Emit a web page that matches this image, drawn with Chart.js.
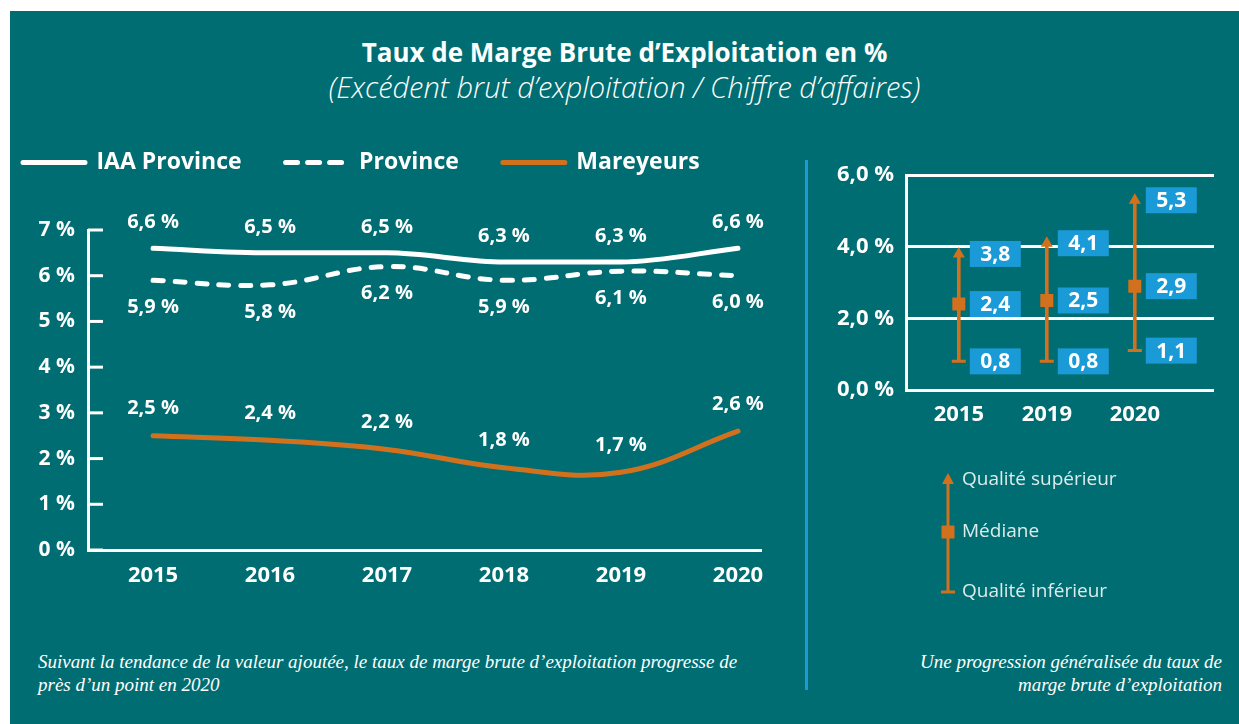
<!DOCTYPE html>
<html lang="fr">
<head>
<meta charset="utf-8">
<title>Taux de Marge Brute d'Exploitation</title>
<script src="https://cdn.jsdelivr.net/npm/chart.js@4.4.1/dist/chart.umd.min.js"></script>
<style>
  html, body { margin: 0; padding: 0; background: #fff; }
  body { width: 1239px; height: 724px; position: relative; overflow: hidden; font-family: "Open Sans", Lato, sans-serif; }
  #panel { position: absolute; left: 10px; top: 11px; right: 0; bottom: 0; background: #006d72; }
  .abs { position: absolute; }
  #title { left: 10px; width: 1229px; top: 35px; line-height: 34px; text-align: center; color: #fff; font-weight: 700; font-size: 26px; }
  #subtitle { left: 10px; width: 1229px; top: 67px; line-height: 39px; text-align: center; color: #fff; font-weight: 300; font-style: italic; font-size: 29px; }
  #sep { left: 805px; top: 160px; width: 3px; height: 530px; background: #1d9ad6; }
  #leftChart { left: -21px; top: 107px; }
  #rightChart { left: 820px; top: 150px; }
  .note { color: #fff; font-family: "Liberation Serif", serif; font-style: italic; font-size: 19px; line-height: 23px; white-space: nowrap; }
  #noteLeft { left: 38px; top: 650px; }
  #noteRight { right: 17px; top: 650px; text-align: right; }
</style>
</head>
<body>
<div id="panel"></div>
<div id="title" class="abs">Taux de Marge Brute d’Exploitation en %</div>
<div id="subtitle" class="abs">(Excédent brut d’exploitation / Chiffre d’affaires)</div>
<div id="sep" class="abs"></div>
<canvas id="leftChart" class="abs" width="809" height="493"></canvas>
<canvas id="rightChart" class="abs" width="410" height="465"></canvas>
<div id="noteLeft" class="abs note">Suivant la tendance de la valeur ajoutée, le taux de marge brute d’exploitation progresse de<br>près d’un point en 2020</div>
<div id="noteRight" class="abs note">Une progression généralisée du taux de<br>marge brute d’exploitation</div>

<script>
// left chart data
var years = [2015, 2016, 2017, 2018, 2019, 2020];
var iaaProvince = [6.6, 6.5, 6.5, 6.3, 6.3, 6.6];
var province = [5.9, 5.8, 6.2, 5.9, 6.1, 6.0];
var mareyeurs = [2.5, 2.4, 2.2, 1.8, 1.7, 2.6];

// right chart data
var boxYears = ['2015', '2019', '2020'];
var boxPos = [0.6, 1.6, 2.6];
var qualSup = [3.8, 4.1, 5.3];
var mediane = [2.4, 2.5, 2.9];
var qualInf = [0.8, 0.8, 1.1];

var WHITE = '#ffffff';
var ORANGE = '#d2711d';
var BLUE = '#1a9ad6';
var FONT = '"Open Sans", Lato, sans-serif';

Chart.defaults.font.family = FONT;
Chart.defaults.color = WHITE;

function fr(v) { return v.toFixed(1).replace('.', ','); }
function pts(xs, ys) { return xs.map(function (x, i) { return {x: x, y: ys[i]}; }); }

// push the plot area down below the legend
var legendGap = {
  id: 'legendGap',
  beforeInit: function (chart) {
    var fit = chart.legend.fit;
    chart.legend.fit = function () {
      fit.bind(chart.legend)();
      this.height += 46;
    };
  }
};

var valueLabels = {
  id: 'valueLabels',
  afterDatasetsDraw: function (chart) {
    var ctx = chart.ctx;
    ctx.save();
    ctx.font = 'bold 20px ' + FONT;
    ctx.fillStyle = WHITE;
    ctx.textAlign = 'center';
    ctx.textBaseline = 'middle';
    chart.data.datasets.forEach(function (ds, i) {
      chart.getDatasetMeta(i).data.forEach(function (pt, j) {
        ctx.fillText(fr(ds.data[j].y) + ' %', pt.x, pt.y + ds.labelShift);
      });
    });
    ctx.restore();
  }
};

// tick marks pointing into the plot
var innerTicks = {
  id: 'innerTicks',
  afterDraw: function (chart) {
    var s = chart.scales.y, ctx = chart.ctx;
    ctx.save();
    ctx.strokeStyle = WHITE;
    ctx.lineWidth = 3;
    s.ticks.forEach(function (t, i) {
      var y = s.getPixelForTick(i);
      ctx.beginPath();
      ctx.moveTo(s.right, y);
      ctx.lineTo(s.right + 15, y);
      ctx.stroke();
    });
    ctx.restore();
  }
};

new Chart(document.getElementById('leftChart'), {
  type: 'line',
  data: {
    datasets: [{
      label: 'IAA Province',
      data: pts(years, iaaProvince),
      borderColor: WHITE,
      backgroundColor: WHITE,
      borderWidth: 5,
      borderCapStyle: 'round',
      cubicInterpolationMode: 'monotone',
      labelShift: -26
    }, {
      label: 'Province',
      data: pts(years, province),
      borderColor: WHITE,
      backgroundColor: WHITE,
      borderWidth: 5,
      borderDash: [10, 12],
      borderCapStyle: 'round',
      labelShift: 27
    }, {
      label: 'Mareyeurs',
      data: pts(years, mareyeurs),
      borderColor: ORANGE,
      backgroundColor: ORANGE,
      borderWidth: 5,
      borderCapStyle: 'round',
      labelShift: -27
    }]
  },
  options: {
    responsive: false,
    animation: false,
    tension: 0.4,
    pointRadius: 0,
    layout: { padding: { left: 0, right: 27, top: 0, bottom: 0 } },
    scales: {
      x: {
        type: 'linear',
        min: 2014.444,
        max: 2020.197,
        afterBuildTicks: function (s) { s.ticks = years.map(function (y) { return {value: y}; }); },
        afterFit: function (s) { s.height = 50; },
        ticks: { callback: function (v) { return String(v); }, font: { size: 22, weight: 'bold' }, padding: 5 },
        grid: { display: false },
        border: { color: WHITE, width: 3 }
      },
      y: {
        min: 0,
        max: 7,
        afterFit: function (s) { s.width = 109; },
        ticks: { stepSize: 1, callback: function (v) { return v + ' %'; }, font: { size: 21, weight: 'bold' }, padding: 13 },
        grid: { display: false, drawTicks: false },
        border: { color: WHITE, width: 3 }
      }
    },
    plugins: {
      legend: {
        align: 'start',
        labels: {
          usePointStyle: true,
          pointStyleWidth: 62,
          padding: 44,
          color: WHITE,
          font: { size: 23, weight: 'bold' },
          generateLabels: function (chart) {
            return chart.data.datasets.map(function (ds, i) {
              return {
                text: ds.label,
                datasetIndex: i,
                fillStyle: ds.borderColor,
                strokeStyle: ds.borderColor,
                lineWidth: ds.borderWidth,
                lineDash: ds.borderDash ? [12, 10] : [],
                lineCap: 'round',
                pointStyle: 'line',
                fontColor: WHITE
              };
            });
          }
        }
      },
      tooltip: { enabled: false }
    }
  },
  plugins: [legendGap, valueLabels, innerTicks]
});

// blue value boxes next to each mark
var boxLabels = {
  id: 'boxLabels',
  afterDatasetsDraw: function (chart) {
    var ctx = chart.ctx;
    ctx.save();
    ctx.font = 'bold 21px ' + FONT;
    ctx.textAlign = 'center';
    ctx.textBaseline = 'middle';
    chart.data.datasets.forEach(function (ds, i) {
      if (!ds.boxed) return;
      chart.getDatasetMeta(i).data.forEach(function (pt, j) {
        var v = ds.data[j].y;
        var y = chart.scales.y.getPixelForValue(v);
        ctx.fillStyle = BLUE;
        ctx.fillRect(pt.x + 11, y - 13, 51, 26);
        ctx.fillStyle = WHITE;
        ctx.fillText(fr(v), pt.x + 36.5, y + 1);
      });
    });
    ctx.restore();
  }
};

// key under the plot
var rangeKey = {
  id: 'rangeKey',
  afterDraw: function (chart) {
    var ctx = chart.ctx, a = chart.chartArea;
    var x = a.left + 42, yTop = a.bottom + 83, yMid = a.bottom + 142, yLow = a.bottom + 202;
    ctx.save();
    ctx.strokeStyle = ORANGE;
    ctx.fillStyle = ORANGE;
    ctx.lineWidth = 3;
    ctx.beginPath();
    ctx.moveTo(x, yTop + 6);
    ctx.lineTo(x, yLow);
    ctx.stroke();
    ctx.beginPath();
    ctx.moveTo(x, yTop);
    ctx.lineTo(x + 6, yTop + 11);
    ctx.lineTo(x - 6, yTop + 11);
    ctx.closePath();
    ctx.fill();
    ctx.fillRect(x - 6.5, yMid - 6.5, 13, 13);
    ctx.beginPath();
    ctx.moveTo(x - 7, yLow);
    ctx.lineTo(x + 7, yLow);
    ctx.stroke();
    ctx.fillStyle = '#dcecea';
    ctx.font = '19px ' + FONT;
    ctx.textBaseline = 'middle';
    ctx.fillText('Qualité supérieur', x + 14, yTop + 7);
    ctx.fillText('Médiane', x + 14, yMid);
    ctx.fillText('Qualité inférieur', x + 14, yLow);
    ctx.restore();
  }
};

new Chart(document.getElementById('rightChart'), {
  type: 'scatter',
  data: {
    datasets: [{
      type: 'bar',
      data: boxPos.map(function (x, i) { return {x: x, y: [qualInf[i], qualSup[i]]}; }),
      backgroundColor: ORANGE,
      barThickness: 3,
      order: 3
    }, {
      data: pts(boxPos, qualSup),
      pointStyle: 'triangle',
      pointRadius: 7,
      backgroundColor: ORANGE,
      borderColor: ORANGE,
      borderWidth: 0,
      boxed: true,
      order: 1
    }, {
      data: pts(boxPos, mediane),
      pointStyle: 'rect',
      pointRadius: 9.2,
      backgroundColor: ORANGE,
      borderColor: ORANGE,
      borderWidth: 0,
      boxed: true,
      order: 1
    }, {
      data: pts(boxPos, qualInf),
      pointStyle: 'line',
      pointRadius: 7,
      borderColor: ORANGE,
      borderWidth: 3,
      boxed: true,
      order: 1
    }]
  },
  options: {
    responsive: false,
    animation: false,
    layout: { padding: { left: 0, right: 16, top: 20, bottom: 185 } },
    scales: {
      x: {
        type: 'linear',
        min: 0,
        max: 3.5,
        offset: false,
        afterBuildTicks: function (s) { s.ticks = boxPos.map(function (p) { return {value: p}; }); },
        afterFit: function (s) { s.height = 40; },
        ticks: {
          callback: function (v) { return boxYears[boxPos.indexOf(v)]; },
          font: { size: 22, weight: 'bold' },
          padding: 4
        },
        grid: { display: false, offset: false },
        border: { display: false }
      },
      y: {
        min: 0,
        max: 6,
        afterFit: function (s) { s.width = 86; },
        ticks: { stepSize: 2, callback: function (v) { return fr(v) + ' %'; }, font: { size: 22, weight: 'bold' }, padding: 12 },
        grid: { color: WHITE, lineWidth: 3, drawTicks: false },
        border: { color: WHITE, width: 3 }
      }
    },
    plugins: {
      legend: { display: false },
      tooltip: { enabled: false }
    }
  },
  plugins: [boxLabels, rangeKey]
});
</script>
</body>
</html>
